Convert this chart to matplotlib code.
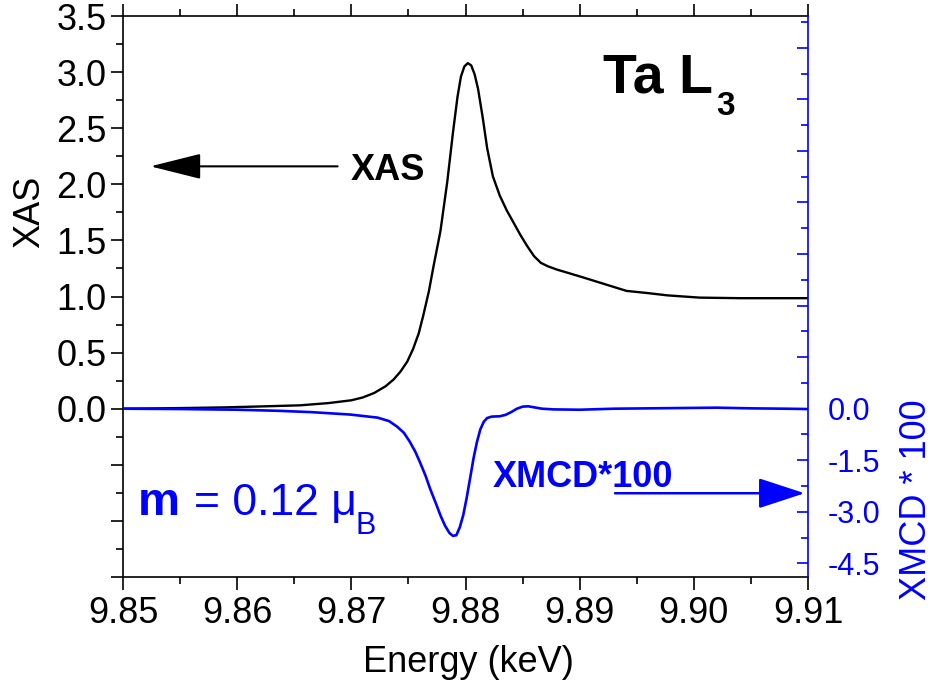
import matplotlib
matplotlib.use('Agg')
import matplotlib.pyplot as plt
from matplotlib.ticker import MultipleLocator

plt.rcParams['font.family'] = ['Liberation Sans', 'DejaVu Sans']

# ---------------- data ----------------
energy_xas = [9.850, 9.853, 9.856, 9.859, 9.862, 9.8655, 9.868, 9.8700, 9.8710,
              9.8720, 9.8730, 9.8737, 9.8743, 9.8749, 9.8754, 9.8759, 9.8763,
              9.8768, 9.8772, 9.8778, 9.8784, 9.8789, 9.8793, 9.8796, 9.8799,
              9.8802, 9.8805, 9.8808, 9.8811, 9.8815, 9.8819, 9.8824, 9.8830,
              9.8836, 9.8842, 9.8848, 9.8854, 9.8860, 9.8866, 9.8872, 9.8880,
              9.8890, 9.8903, 9.8922, 9.8941, 9.8960, 9.8977, 9.9005, 9.9040,
              9.9070, 9.9100]
xas = [0.00, 0.003, 0.007, 0.012, 0.02, 0.03, 0.05, 0.075, 0.10,
       0.14, 0.20, 0.26, 0.33, 0.42, 0.53, 0.67, 0.83,
       1.05, 1.27, 1.58, 2.02, 2.46, 2.78, 2.96, 3.05,
       3.08, 3.06, 2.98, 2.85, 2.60, 2.32, 2.07, 1.90,
       1.77, 1.66, 1.55, 1.45, 1.36, 1.30, 1.27, 1.24,
       1.21, 1.17, 1.11, 1.05, 1.03, 1.01, 0.99, 0.985,
       0.985, 0.985]

energy_xmcd = [9.850, 9.855, 9.860, 9.8635, 9.8665, 9.8699, 9.8723, 9.8733, 9.8740,
               9.8746, 9.8751, 9.8756, 9.8760, 9.8765, 9.8769, 9.8774, 9.8778,
               9.8782, 9.8786, 9.8789, 9.8792, 9.8795, 9.8798, 9.8801, 9.8804,
               9.8807, 9.8810, 9.8813, 9.8816, 9.8819, 9.8823, 9.8830, 9.8835,
               9.8840, 9.8845, 9.8850, 9.8855, 9.8860, 9.8867, 9.8877, 9.890,
               9.893, 9.896, 9.899, 9.902, 9.905, 9.908, 9.910]
xmcd = [0.0, -0.01, -0.03, -0.06, -0.10, -0.17, -0.26, -0.36, -0.52,
        -0.70, -0.95, -1.25, -1.55, -1.95, -2.33, -2.75, -3.10,
        -3.40, -3.62, -3.70, -3.68, -3.45, -3.10, -2.60, -2.03,
        -1.45, -0.97, -0.60, -0.38, -0.27, -0.23, -0.22, -0.18,
        -0.10, 0.00, 0.06, 0.07, 0.04, 0.00, -0.02, -0.03,
        0.0, 0.01, 0.02, 0.03, 0.01, 0.0, -0.01]

x_ticks = [9.85, 9.86, 9.87, 9.88, 9.89, 9.90, 9.91]
x_tick_labels = ['9.85', '9.86', '9.87', '9.88', '9.89', '9.90', '9.91']
left_ticks = [-1.5, -1.0, -0.5, 0.0, 0.5, 1.0, 1.5, 2.0, 2.5, 3.0, 3.5]
left_tick_labels = ['', '', '', '0.0', '0.5', '1.0', '1.5', '2.0', '2.5', '3.0', '3.5']
right_ticks = [-4.5, -3.0, -1.5, 0.0, 1.5, 3.0, 4.5, 6.0, 7.5, 9.0, 10.5]
right_tick_labels = ['-4.5', '-3.0', '-1.5', '0.0', '', '', '', '', '', '', '']

BLUE = '#0000ff'

fig = plt.figure(figsize=(9.32, 6.84), dpi=100)
ax = fig.add_axes([123 / 932, 1 - 577 / 684, 685 / 932, 561 / 684])
ax2 = ax.twinx()

ax.plot(energy_xas, xas, color='black', lw=1.7, solid_joinstyle='round')
ax2.plot(energy_xmcd, xmcd, color=BLUE, lw=1.9, solid_joinstyle='round')

ax.set_xlim(9.85, 9.91)
ax.set_ylim(-1.5, 3.5)
k = 112.3 / 34.4
ax2.set_ylim(-1.5 * k, 3.5 * k)

# x axis
ax.set_xticks(x_ticks, x_tick_labels)
ax.xaxis.set_minor_locator(MultipleLocator(0.005))
ax.set_yticks(left_ticks, left_tick_labels)
ax.yaxis.set_minor_locator(MultipleLocator(0.25))
ax.tick_params(axis='both', which='both', direction='out', top=True, right=False,
               labelsize=26, width=1.2, colors='black')
ax.tick_params(axis='both', which='major', length=9)
ax.tick_params(axis='both', which='minor', length=5)
ax.tick_params(axis='x', which='major', pad=5)
ax.tick_params(axis='y', which='major', pad=3)

ax2.set_yticks(right_ticks, right_tick_labels)
ax2.yaxis.set_minor_locator(MultipleLocator(0.75))
ax2.tick_params(axis='y', which='both', direction='in', colors=BLUE, labelsize=22,
                width=1.2)
ax2.tick_params(axis='y', which='major', length=8, pad=14)
ax2.tick_params(axis='y', which='minor', length=5)

for s in ['left', 'top', 'bottom']:
    ax.spines[s].set_linewidth(1.2)
    ax2.spines[s].set_visible(False)
ax.spines['right'].set_visible(False)
ax2.spines['right'].set_color(BLUE)
ax2.spines['right'].set_linewidth(1.2)

# axis labels
ax.text(-0.136, 0.651, 'XAS', rotation=90, transform=ax.transAxes, fontsize=26,
        ha='center', va='center')
ax.text(0.504, -0.169, 'Energy (keV)', transform=ax.transAxes, fontsize=26,
        ha='center', va='baseline')
ax.text(1.158, 0.137, 'XMCD * 100', rotation=90, transform=ax.transAxes, fontsize=26,
        ha='center', va='center', color=BLUE)

# Ta L3
ax.text(0.7007, 0.8645, 'Ta L', transform=ax.transAxes, fontsize=40,
        fontweight='bold', va='baseline', ha='left')
ax.text(0.866, 0.8235, '3', transform=ax.transAxes, fontsize=24,
        fontweight='bold', va='baseline', ha='left')

# XAS arrow + label
ax.annotate('', xy=(9.8524, 2.16), xytext=(9.8688, 2.16),
            arrowprops=dict(arrowstyle='-|>,head_length=3.2,head_width=0.8',
                            mutation_scale=10, lw=1.5, color='black',
                            shrinkA=0, shrinkB=0))
ax.text(9.8699, 2.035, 'XAS', fontsize=26, fontweight='bold', va='baseline')

# XMCD arrow + label
ax2.annotate('', xy=(9.9097, -2.46), xytext=(9.8931, -2.46),
             arrowprops=dict(arrowstyle='-|>,head_length=2.9,head_width=0.95',
                             mutation_scale=10, lw=1.8, color=BLUE,
                             shrinkA=0, shrinkB=0))
ax2.text(9.8824, -2.28, 'XMCD*100', fontsize=26, fontweight='bold', va='baseline',
         color=BLUE)

# m = 0.12 muB
ax2.text(9.8513, -3.09, 'm', fontsize=34, fontweight='bold', va='baseline', color=BLUE)
ax2.text(9.8562, -3.09, '= 0.12 \u03bc', fontsize=32, va='baseline', color=BLUE)
ax2.text(9.8704, -3.65, 'B', fontsize=22, va='baseline', color=BLUE)

fig.savefig('out.png', dpi=100)
